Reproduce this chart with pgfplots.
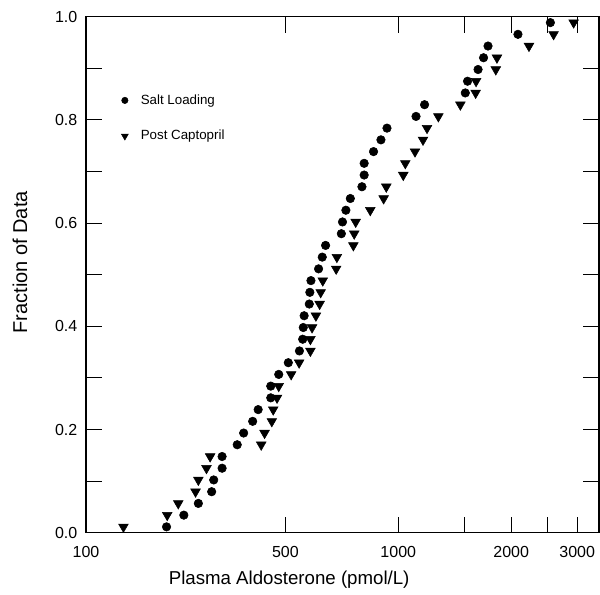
\documentclass[border=0pt]{standalone}
\usepackage{fontspec}
\setmainfont{Liberation Sans}
\usepackage{pgfplots}
\pgfplotsset{compat=1.18}

\begin{document}
\begin{tikzpicture}
\begin{axis}[
  scale only axis,
  width=384.75pt, height=387pt,
  xmode=log,
  xmin=147, xmax=3430,
  ymin=0, ymax=1,
  xtick={147,500,1000,1500,2000,2500,3000},
  xticklabels={100,500,1000,,2000,,3000},
  ytick={0,0.1,0.2,0.3,0.4,0.5,0.6,0.7,0.8,0.9,1.0},
  yticklabels={0.0,,0.2,,0.4,,0.6,,0.8,,1.0},
  tick align=inside,
  major tick length=12pt,
  minor tick num=0,
  axis line style={line width=0.8pt},
  every tick/.style={black, line width=0.8pt},
  tick label style={font=\fontsize{12}{14}\selectfont},
  xticklabel style={yshift=-6.5pt},
  yticklabel style={xshift=-3pt},
  xlabel={Plasma Aldosterone (pmol/L)},
  ylabel={Fraction of Data},
  xlabel style={font=\fontsize{14}{16}\selectfont,
    at={(axis description cs:0.396,-0.0917)}, anchor=center},
  ylabel style={font=\fontsize{15}{17}\selectfont,
    at={(axis description cs:-0.1287,0.524)}, anchor=center, rotate=0},
  legend style={at={(0.06,0.86)}, anchor=north west, draw=none, fill=none,
    font=\fontsize{10}{12}\selectfont, row sep=14pt},
  legend cell align=left,
]
\coordinate (bl) at (rel axis cs:0,0);

\addplot[only marks, mark=*, mark size=3.2pt, black,
  legend image code/.code={\draw[mark size=2.4pt] plot coordinates {(0.1cm,0cm)};
    \path[draw=none] (0cm,0cm) -- (0.45cm,0cm);}]
coordinates {
(241,0.0114) (268,0.0341) (293,0.0568) (318,0.0795) (322,0.1023)
(339,0.1250) (339,0.1477) (372,0.1705) (387,0.1932) (409,0.2159)
(423,0.2386) (457,0.2614) (457,0.2841) (480,0.3068) (509,0.3295)
(545,0.3523) (556,0.3750) (558,0.3977) (561,0.4205) (579,0.4432)
(581,0.4659) (585,0.4886) (613,0.5114) (627,0.5341) (640,0.5568)
(705,0.5795) (710,0.6023) (725,0.6250) (745,0.6477) (800,0.6705)
(811,0.6932) (811,0.7159) (859,0.7386) (899,0.7614) (933,0.7841)
(1115,0.8068) (1175,0.8295) (1509,0.8523) (1530,0.8750) (1632,0.8977)
(1688,0.9205) (1735,0.9432) (2085,0.9659) (2544,0.9886)
};
\addlegendentry{Salt Loading}

\addplot[only marks, mark=triangle*, mark size=4.2pt, black, mark options={rotate=180},
  legend image code/.code={\draw[mark size=3pt] plot coordinates {(0.1cm,0cm)};
    \path[draw=none] (0cm,0cm) -- (0.45cm,0cm);}]
coordinates {
(185,0.0114) (242,0.0341) (259,0.0568) (288,0.0795) (293,0.1023)
(308,0.1250) (315,0.1477) (431,0.1705) (440,0.1932) (460,0.2159)
(464,0.2386) (475,0.2614) (480,0.2841) (518,0.3068) (544,0.3295)
(583,0.3523) (583,0.3750) (589,0.3977) (603,0.4205) (617,0.4432)
(621,0.4659) (629,0.4886) (683,0.5114) (686,0.5341) (759,0.5568)
(763,0.5795) (770,0.6023) (842,0.6250) (914,0.6477) (929,0.6705)
(1031,0.6932) (1044,0.7159) (1108,0.7386) (1164,0.7614) (1193,0.7841)
(1279,0.8068) (1464,0.8295) (1608,0.8523) (1612,0.8750) (1820,0.8977)
(1833,0.9205) (2231,0.9432) (2595,0.9659) (2935,0.9886)
};
\addlegendentry{Post Captopril}
\end{axis}
\pgfresetboundingbox
\path (bl) ++(-64.5pt,-46.7pt) rectangle ++(450pt,446.25pt);
\end{tikzpicture}
\end{document}
